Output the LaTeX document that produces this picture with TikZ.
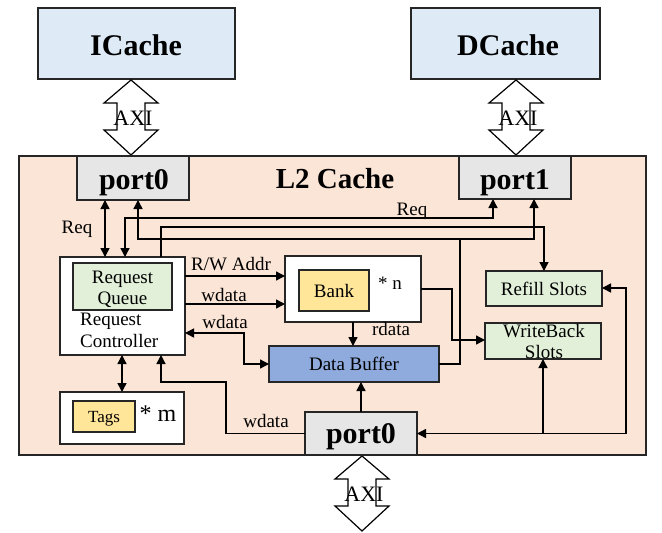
\documentclass[tikz,border=0pt]{standalone}
\usepackage{fontspec}
\setmainfont{Liberation Serif}
\usetikzlibrary{arrows.meta}
\definecolor{peach}{HTML}{FBE5D6}
\definecolor{lblue}{HTML}{DEEBF7}
\definecolor{lgray}{HTML}{E6E6E6}
\definecolor{lgreen}{HTML}{E2F0D9}
\definecolor{lyellow}{HTML}{FFE699}
\definecolor{dbblue}{HTML}{8FAADC}
\newcommand{\fsz}[1]{\fontsize{#1}{#1}\selectfont}
\begin{document}
\begin{tikzpicture}[x=1pt,y=-1pt,
  box/.style={draw=black!85, line width=1.6pt, inner sep=0pt, outer sep=0pt},
  conn/.style={line width=1.4pt, -{Triangle[length=9pt,width=9pt]}},
  both/.style={line width=1.4pt, {Triangle[length=9pt,width=9pt]}-{Triangle[length=9pt,width=9pt]}},
  plain/.style={line width=1.4pt},
  lbl/.style={anchor=base, inner sep=0pt, font=\fsz{19}},
  ttl/.style={anchor=base, inner sep=0pt, font=\fsz{30}\bfseries},
  axiarrow/.pic={
    \draw[line width=1.2pt, fill=white] (0,0) -- (27,23) -- (14,23) -- (14,50) -- (27,50) -- (0,75)
      -- (-27,50) -- (-14,50) -- (-14,23) -- (-27,23) -- cycle;
    \node[anchor=base, inner sep=0pt, font=\fsz{22}] (t) at (2,45) {AXI};
  }
]
\useasboundingbox (0,0) rectangle (662,533);

% outer caches
\node[box, fill=lblue, minimum width=197pt, minimum height=71pt] (icache) at (136.5,43.5) {};
\node[ttl] (icacheT) at (136,55) {ICache};
\node[box, fill=lblue, minimum width=189pt, minimum height=71pt] (dcache) at (505.5,43.5) {};
\node[ttl] (dcacheT) at (508,55) {DCache};

% AXI arrows
\pic (axiI) at (131,80) {axiarrow};
\pic (axiD) at (516,80) {axiarrow};
\pic (axiB) at (362,456) {axiarrow};

% L2 container
\node[box, fill=peach, minimum width=627pt, minimum height=299pt] (l2) at (332.5,305.5) {};
\node[ttl, font=\fsz{29}\bfseries] (l2T) at (335,188) {L2 Cache};

% ports
\node[box, fill=lgray, minimum width=112pt, minimum height=44pt] (port0) at (133,178) {};
\node[ttl] (port0T) at (134,189) {port0};
\node[box, fill=lgray, minimum width=112pt, minimum height=43pt] (port1) at (515,177.5) {};
\node[ttl] (port1T) at (515,189) {port1};
\node[box, fill=lgray, minimum width=112pt, minimum height=43pt] (port0b) at (361,433.5) {};
\node[ttl] (port0bT) at (361,443) {port0};

% request controller
\node[box, fill=white, minimum width=125pt, minimum height=98pt] (rc) at (122.5,306) {};
\node[box, fill=lgreen, minimum width=99pt, minimum height=47pt] (rq) at (122.5,286.5) {};
\node[lbl] (rqT1) at (122.5,283) {Request};
\node[lbl] (rqT2) at (122.5,304) {Queue};
\node[lbl, anchor=base west] (rcT1) at (80,325) {Request};
\node[lbl, anchor=base west] (rcT2) at (80,347) {Controller};

% tags
\node[box, fill=white, minimum width=124pt, minimum height=52pt] (tagsbox) at (122,418) {};
\node[box, fill=lyellow, minimum width=62pt, minimum height=31pt] (tags) at (104,416.5) {};
\node[lbl, font=\fsz{17}] (tagsT) at (104,422) {Tags};
\node[lbl, font=\fsz{24}] (mT) at (158,421) {* m};

% bank
\node[box, fill=white, minimum width=136pt, minimum height=66pt] (bankbox) at (353,289) {};
\node[box, fill=lyellow, minimum width=70pt, minimum height=41pt] (bank) at (334,290.5) {};
\node[lbl] (bankT) at (334,297) {Bank};
\node[lbl] (nT) at (390,289) {* n};

% data buffer
\node[box, fill=dbblue, minimum width=170pt, minimum height=36pt] (db) at (354,364) {};
\node[lbl] (dbT) at (354,370) {Data Buffer};

% slots
\node[box, fill=lgreen, minimum width=116pt, minimum height=35pt] (refill) at (544,288.5) {};
\node[lbl] (refillT) at (544,295) {Refill Slots};
\node[box, fill=lgreen, minimum width=116pt, minimum height=36pt] (wb) at (543,341) {};
\node[lbl] (wbT1) at (544,337) {WriteBack};
\node[lbl] (wbT2) at (544,358) {Slots};

% connectors
\draw[both] (port0.south -| 105,0) -- (rc.north -| 105,0);
\node[lbl] (reqL) at (77,233) {Req};

\draw[both] (rc.north -| 125,0) -- (125,218) -- (493,218) -- (port1.south -| 493,0);
\node[lbl] (reqT) at (412,215) {Req};

\draw[conn] (rc.north -| 161,0) -- (161,227) -- (544,227) -- (refill.north -| 544,0);

\draw[plain] (db.east) -- (db.east -| 460,0) -- (460,239);
\draw[both] (port0.south -| 138,0) -- (138,239) -- (534,239) -- (port1.south -| 534,0);

\draw[conn] (rc.east |- 0,276) -- (bankbox.west |- 0,276);
\node[lbl] (rwL) at (231,270) {R/W Addr};
\draw[conn] (rc.east |- 0,304) -- (bankbox.west |- 0,304);
\node[lbl] (wd1L) at (224,301) {wdata};

\draw[both] (rc.east |- 0,333) -- (244,333) -- (244,364) -- (db.west);
\node[lbl] (wd2L) at (225,328) {wdata};

\draw[conn] (bankbox.south) -- (bankbox.south |- db.north);
\node[lbl] (rdL) at (391,335) {rdata};

\draw[conn] (bankbox.east |- 0,289) -- (452,289) -- (452,340) -- (wb.west |- 0,340);

\draw[conn] (port0b.north) -- (port0b.north |- db.south);

\draw[conn] (wb.south |- port0b.east) -- (port0b.east);
\draw[conn] (wb.south |- port0b.east) -- (wb.south);
\draw[conn] (wb.south |- port0b.east) -- (626,433.5) -- (626,288) -- (refill.east |- 0,288);

\draw[conn] (port0b.west) -- (226,433.5) -- (226,382) -- (161,382) -- (rc.south -| 161,0);
\node[lbl] (wd3L) at (266,427) {wdata};

\draw[both] (rc.south -| 122,0) -- (tagsbox.north -| 122,0);
\end{tikzpicture}
\end{document}
